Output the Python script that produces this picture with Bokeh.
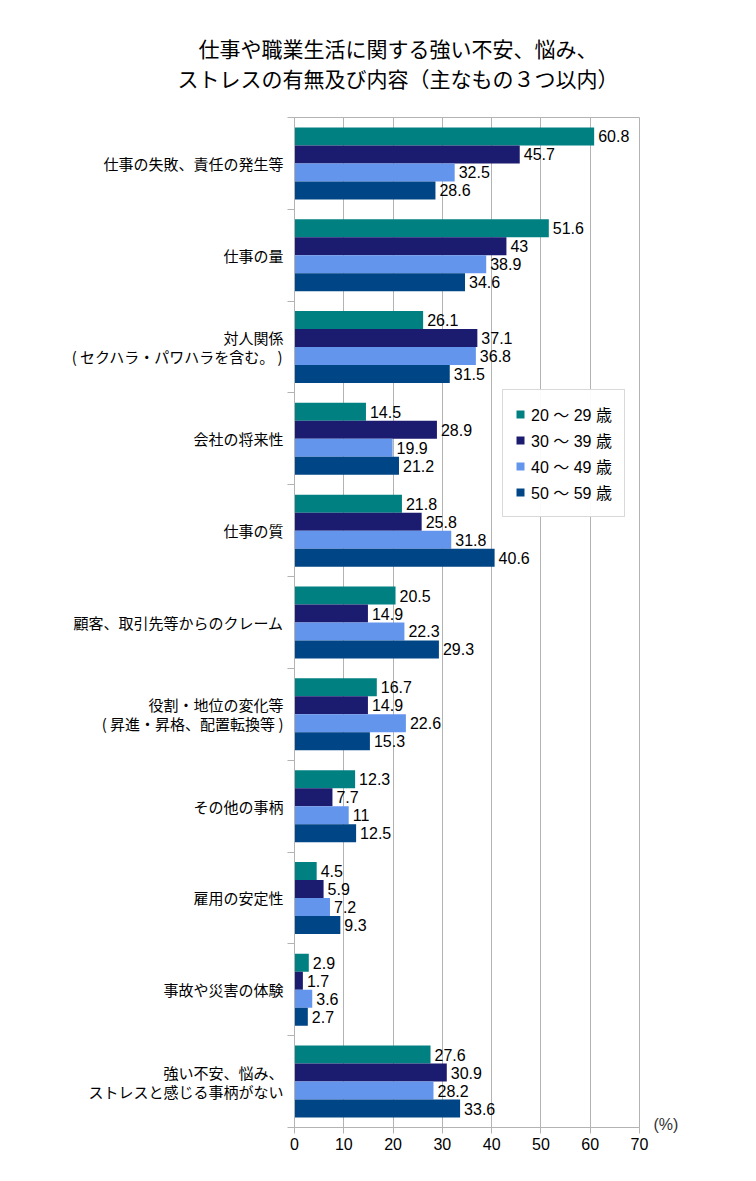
from bokeh.plotting import figure
from bokeh.models import (ColumnDataSource, FixedTicker, Legend, LegendItem, Div, LinearAxis)
from bokeh.layouts import column
from bokeh.transform import dodge
from bokeh.core.properties import value
from bokeh.embed import file_html
from bokeh.resources import INLINE

TITLE_LINES = ["仕事や職業生活に関する強い不安、悩み、", "ストレスの有無及び内容（主なもの３つ以内）"]

categories = [
    "仕事の失敗、責任の発生等",
    "仕事の量",
    "対人関係\n( セクハラ・パワハラを含む。 )",
    "会社の将来性",
    "仕事の質",
    "顧客、取引先等からのクレーム",
    "役割・地位の変化等\n( 昇進・昇格、配置転換等 )",
    "その他の事柄",
    "雇用の安定性",
    "事故や災害の体験",
    "強い不安、悩み、\nストレスと感じる事柄がない",
]
series_names = ["20 ～ 29 歳", "30 ～ 39 歳", "40 ～ 49 歳", "50 ～ 59 歳"]
age_20s = [60.8, 51.6, 26.1, 14.5, 21.8, 20.5, 16.7, 12.3, 4.5, 2.9, 27.6]
age_30s = [45.7, 43, 37.1, 28.9, 25.8, 14.9, 14.9, 7.7, 5.9, 1.7, 30.9]
age_40s = [32.5, 38.9, 36.8, 19.9, 31.8, 22.3, 22.6, 11, 7.2, 3.6, 28.2]
age_50s = [28.6, 34.6, 31.5, 21.2, 40.6, 29.3, 15.3, 12.5, 9.3, 2.7, 33.6]
x_ticks = [0, 10, 20, 30, 40, 50, 60, 70]
unit_label = "(%)"

COLORS = ["#008080", "#1b1b6f", "#6495ed", "#004586"]
GRID = "#b3b3b3"
JP = "Noto Sans CJK JP"
NUM = "Liberation Sans, Noto Sans CJK JP"

n = len(categories)
centers = [n - i - 0.5 for i in range(n)]
bar_h = 0.196

p = figure(width=740, height=1081, x_range=(0, 70), y_range=(0, n),
           output_backend="svg", toolbar_location=None,
           min_border_left=294, min_border_right=101,
           min_border_top=17, min_border_bottom=54)
p.outline_line_color = GRID
p.background_fill_color = "white"
p.border_fill_color = "white"

items = []
for k, (name, vals) in enumerate(zip(series_names, [age_20s, age_30s, age_40s, age_50s])):
    off = (1.5 - k) * bar_h
    src = ColumnDataSource(dict(y=centers, v=vals, txt=[f"{v:g}" for v in vals]))
    r = p.hbar(y=dodge("y", off), right="v", left=0, height=bar_h, source=src,
               fill_color=COLORS[k], line_color=None)
    p.text(x="v", y=dodge("y", off), text="txt", source=src, x_offset=4,
           text_baseline="middle", text_align="left", text_font=value(NUM),
           text_font_size="16px", text_color="black")
    items.append(LegendItem(label=name, renderers=[r]))

# axes
p.xaxis.ticker = FixedTicker(ticks=x_ticks)
p.xaxis.axis_line_color = GRID
p.xaxis.major_tick_line_color = GRID
p.xaxis.major_tick_out = 6
p.xaxis.major_tick_in = 0
p.xaxis.minor_tick_line_color = None
p.xaxis.major_label_text_font_size = "16px"
p.xaxis.major_label_text_font = NUM
p.xaxis.major_label_text_color = "black"
p.xaxis.major_label_standoff = 4

p.yaxis.ticker = FixedTicker(ticks=centers, minor_ticks=list(range(n + 1)))
p.yaxis.major_label_overrides = {c: lab for c, lab in zip(centers, categories)}
p.yaxis.axis_line_color = GRID
p.yaxis.major_tick_line_color = None
p.yaxis.major_tick_out = 0
p.yaxis.major_tick_in = 0
p.yaxis.minor_tick_line_color = GRID
p.yaxis.minor_tick_out = 7
p.yaxis.minor_tick_in = 0
p.yaxis.major_label_text_font_size = "15px"
p.yaxis.major_label_text_font = JP
p.yaxis.major_label_text_color = "black"
p.yaxis.major_label_text_line_height = 0.9
p.yaxis.major_label_standoff = 4

# unit label "(%)" at the lower right, as a right-side axis label
unit_axis = LinearAxis(ticker=FixedTicker(ticks=[0.035]),
                       major_label_overrides={0.035: unit_label})
unit_axis.axis_line_color = None
unit_axis.major_tick_line_color = None
unit_axis.minor_tick_line_color = None
unit_axis.major_tick_out = 0
unit_axis.major_tick_in = 0
unit_axis.major_label_standoff = 14
unit_axis.major_label_text_font_size = "16px"
unit_axis.major_label_text_font = NUM
unit_axis.major_label_text_color = "#333333"
unit_axis.major_label_orientation = "horizontal"
p.add_layout(unit_axis, "right")

p.xgrid.ticker = FixedTicker(ticks=x_ticks)
p.xgrid.grid_line_color = GRID
p.ygrid.grid_line_color = None

legend = Legend(items=items, location=(208, 610), orientation="vertical",
                glyph_width=10, glyph_height=10, label_standoff=6,
                label_height=20, spacing=2, padding=12, margin=0,
                border_line_color=GRID, background_fill_color="white",
                label_text_font_size="16px", label_text_font=NUM,
                label_text_color="black")
p.add_layout(legend, "center")

line_style = ("display:block;text-align:center;font-size:21px;line-height:30px;"
              "height:30px;color:black;font-family:'Noto Sans CJK JP';")
title_html = (
    '<div style="width:740px;box-sizing:border-box;padding-left:56px;padding-top:33px;">'
    + "".join(f'<div style="{line_style}">{t}</div>' for t in TITLE_LINES)
    + "</div>"
)
title = Div(text=title_html, width=740, height=100, margin=0)
p.margin = 0

layout = column(title, p, spacing=0)
open("out.html", "w").write(file_html(layout, INLINE))
